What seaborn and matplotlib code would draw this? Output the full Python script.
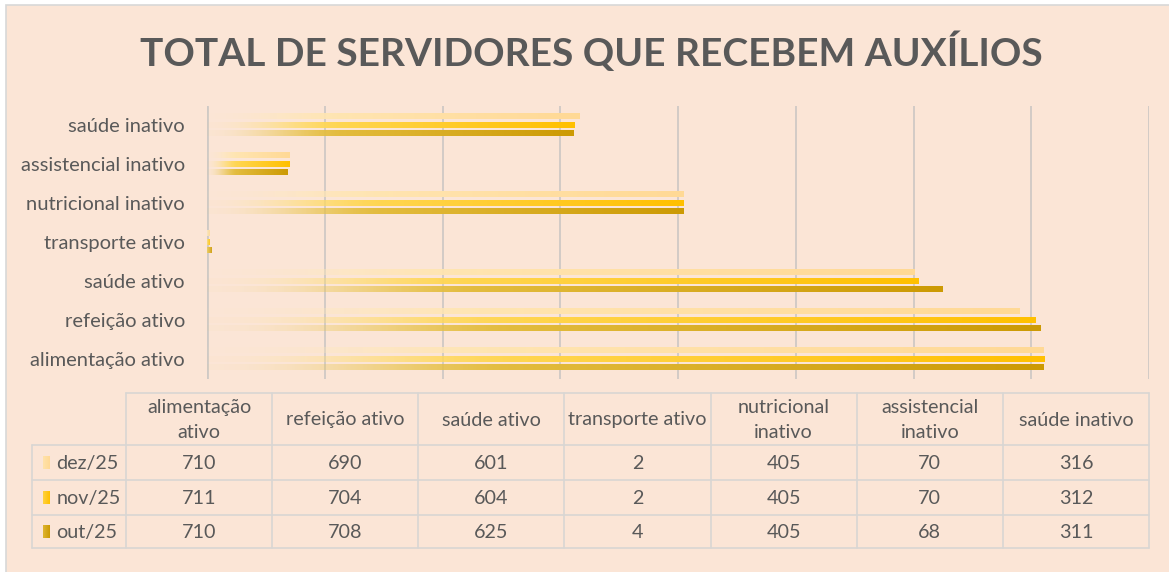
import numpy as np
import pandas as pd
import matplotlib
matplotlib.use("Agg")
import matplotlib.pyplot as plt
import seaborn as sns
from matplotlib.colors import to_rgb
from matplotlib.patches import Rectangle

# ---------------- data ----------------
categories = ["saúde inativo", "assistencial inativo", "nutricional inativo",
              "transporte ativo", "saúde ativo", "refeição ativo", "alimentação ativo"]
months = ["dez/25", "nov/25", "out/25"]
dez = [316, 70, 405, 2, 601, 690, 710]
nov = [312, 70, 405, 2, 604, 704, 711]
out = [311, 68, 405, 4, 625, 708, 710]
table_headers = ["alimentação\nativo", "refeição ativo", "saúde ativo", "transporte ativo",
                 "nutricional\ninativo", "assistencial\ninativo", "saúde inativo"]
title = "TOTAL DE SERVIDORES QUE RECEBEM AUXÍLIOS"

# ---------------- style ----------------
W, H = 1169, 572
BG = "#FBE5D6"
TXT = "#595959"
GRID = "#CFC9C5"
TBL = "#D9D6D3"
grad = {  # (start colour, end colour)
    "dez/25": ("#FFEBC0", "#FFD995"),
    "nov/25": ("#FFE27E", "#FFC000"),
    "out/25": ("#F0CF5E", "#CC9A04"),
}
FONT = ["Lato", "DejaVu Sans"]
FS = 14.2

sns.set_theme(style="white")
plt.rcParams["font.family"] = FONT

fig = plt.figure(figsize=(W / 100, H / 100), dpi=100, facecolor="white")

# overlay axes in pixel coordinates (background, title, table)
bg = fig.add_axes([0, 0, 1, 1], zorder=0)
bg.set_xlim(0, W)
bg.set_ylim(H, 0)
bg.axis("off")
bg.add_patch(Rectangle((6, 5), W, H, facecolor=BG, edgecolor="#D8D8D8", lw=1.2))
bg.text(591, 52, title, ha="center", va="center", fontsize=28, fontweight="bold",
        color=TXT, family=FONT)

# ---------------- bar chart ----------------
left, right, top, bottom = 207, 1149, 105.5, 378.5
ax = fig.add_axes([left / W, 1 - bottom / H, (right - left) / W, (bottom - top) / H], zorder=2)
ax.set_facecolor("none")

df = pd.DataFrame({
    "cat": categories * 3,
    "month": np.repeat(months, len(categories)),
    "val": dez + nov + out,
})
sns.barplot(data=df, y="cat", x="val", hue="month", order=categories, hue_order=months,
            width=0.655, gap=0.3, legend=False, ax=ax,
            palette=[grad[m][1] for m in months])

N = 256
t = np.linspace(0, 1, N)
ramp = np.clip(t / 0.38, 0, 1)
alpha = 0.04 + 0.96 * (ramp * ramp * (3 - 2 * ramp))
for p in list(ax.patches):
    x0, y0, w, h = p.get_x(), p.get_y(), p.get_width(), p.get_height()
    if w <= 0:
        continue
    yc = y0 + h / 2
    off = yc - round(yc)
    m = months[0] if off < -0.1 else (months[2] if off > 0.1 else months[1])
    c0, c1 = np.array(to_rgb(grad[m][0])), np.array(to_rgb(grad[m][1]))
    cols = c0[None, :] * (1 - t[:, None]) + c1[None, :] * t[:, None]
    a = alpha if w > 10 else np.full(N, 0.9)
    img = np.dstack([cols[None, :, 0], cols[None, :, 1], cols[None, :, 2], a[None, :]])
    ax.imshow(img, extent=(x0, x0 + w, y0 + h, y0), aspect="auto",
              interpolation="bilinear", zorder=3)
    p.set_visible(False)

ax.set_xlim(0, 800)
ax.set_ylim(len(categories) - 0.5, -0.5)
ax.set_xticks(range(0, 801, 100))
ax.set_xticklabels([])
ax.xaxis.grid(True, color=GRID, lw=1.3)
ax.set_axisbelow(True)
for s in ax.spines.values():
    s.set_visible(False)
ax.axvline(0, color=GRID, lw=2.0, zorder=1)
ax.set_xlabel("")
ax.set_ylabel("")
ax.tick_params(axis="y", length=0, pad=16, labelsize=14.5, labelcolor=TXT)
ax.tick_params(axis="x", length=0)
for lab in ax.get_yticklabels():
    lab.set_family(FONT)

# ---------------- data table ----------------
tx0, tx1 = 126, 1149
lx0 = 32
ncol = len(table_headers)
cw = (tx1 - tx0) / ncol
hy0, hy1 = 393, 445
row_edges = [445, 480, 515, 548]
lw_t = 1.2
bg.plot([tx0, tx1], [hy0, hy0], color=TBL, lw=lw_t)
for y in row_edges:
    bg.plot([lx0, tx1], [y, y], color=TBL, lw=lw_t)
for i in range(ncol + 1):
    x = tx0 + i * cw
    bg.plot([x, x], [hy0, row_edges[-1]], color=TBL, lw=lw_t)
bg.plot([lx0, lx0], [row_edges[0], row_edges[-1]], color=TBL, lw=lw_t)

for i, hdr in enumerate(table_headers):
    bg.text(tx0 + (i + 0.5) * cw, (hy0 + hy1) / 2 + 1, hdr, ha="center", va="center",
            fontsize=FS, color=TXT, linespacing=1.55, family=FONT)

series = {"dez/25": dez, "nov/25": nov, "out/25": out}
for r, m in enumerate(months):
    ya, yb = row_edges[r], row_edges[r + 1]
    yc = (ya + yb) / 2
    vals = series[m][::-1]
    for i, v in enumerate(vals):
        bg.text(tx0 + (i + 0.5) * cw, yc + 1, str(v), ha="center", va="center",
                fontsize=FS, color=TXT, family=FONT)
    c0, c1 = np.array(to_rgb(grad[m][0])), np.array(to_rgb(grad[m][1]))
    tk = np.linspace(0, 1, 16)
    kc = c0[None, :] * (1 - tk[:, None]) * 0.5 + c1[None, :] * (0.5 + 0.5 * tk[:, None])
    bg.imshow(kc[None, :, :], extent=(42.5, 49, yc + 6.5, yc - 6.5), aspect="auto",
              interpolation="bilinear", zorder=3)
    bg.text(56.5, yc + 1, m, ha="left", va="center", fontsize=FS, color=TXT, family=FONT)

bg.set_xlim(0, W)
bg.set_ylim(H, 0)

fig.savefig("out.png", dpi=100, facecolor="white")
